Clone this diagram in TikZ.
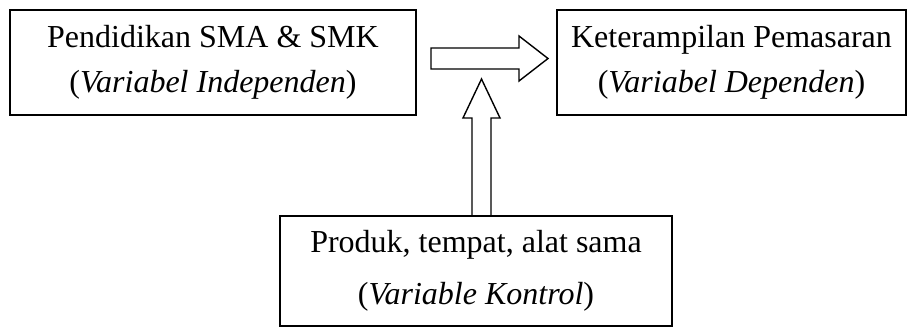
\documentclass[tikz,border=0pt]{standalone}
\usepackage{fontspec}
\setmainfont{Liberation Serif}
\begin{document}
\begin{tikzpicture}[x=1pt,y=-1pt,
  box/.style={draw,line width=1.4pt,inner sep=0pt,align=center,font=\fontsize{32}{45}\selectfont},
  blockarrow/.style={draw,line width=1.4pt,line join=miter}]
\useasboundingbox (0,0) rectangle (907,327);
\node[box,minimum width=406pt,minimum height=105pt] (indep) at (213,62.5)
  {Pendidikan SMA \& SMK\\(\textit{Variabel Independen})};
\node[box,minimum width=349pt,minimum height=105pt] (dep) at (731.5,62.5)
  {Keterampilan Pemasaran\\(\textit{Variabel Dependen})};
\node[box,minimum width=392pt,minimum height=110pt,font=\fontsize{32}{52}\selectfont] (ctrl) at (476,271)
  {Produk, tempat, alat sama\\(\textit{Variable Kontrol})};
% horizontal block arrow
\draw[blockarrow] (431,48) -- (519,48) -- (519,36) -- (548,58.5) -- (519,81) -- (519,69) -- (431,69) -- cycle;
% vertical block arrow
\draw[blockarrow] (472,0 |- ctrl.north) -- (472,118) -- (463,118) -- (481.5,79) -- (500,118) -- (491,118) -- (491,0 |- ctrl.north);
\end{tikzpicture}
\end{document}
